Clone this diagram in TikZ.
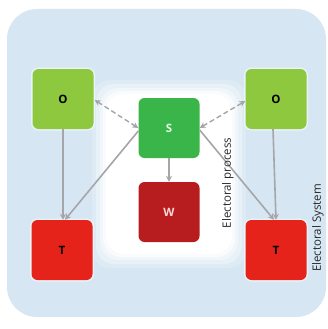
\documentclass[tikz,border=0pt]{standalone}
\usepackage{fontspec}
\setmainfont{Open Sans}
\usetikzlibrary{arrows.meta,calc}
\definecolor{bgblue}{HTML}{D6E7F3}
\definecolor{lightgreen}{HTML}{8DC83F}
\definecolor{midgreen}{HTML}{3AB54A}
\definecolor{darkred}{HTML}{B71C1E}
\definecolor{brightred}{HTML}{E6231B}
\definecolor{linkgray}{HTML}{A5A5AA}
\tikzset{
  box/.style={rounded corners=6pt, minimum width=61pt, minimum height=60pt,
    inner sep=0pt, font=\fontsize{11.5}{13}\selectfont\bfseries,
    preaction={draw=white, line width=3pt, opacity=0.5}},
  link/.style={draw=linkgray, line width=1.6pt,
    -{Stealth[length=6pt,width=6pt]}},
  twoway/.style={draw=linkgray, line width=1.4pt, dash pattern=on 5pt off 3pt,
    {Stealth[length=6pt,width=6pt]}-{Stealth[length=6pt,width=6pt]}},
  caption/.style={rotate=90, font=\fontsize{11.5}{13}\selectfont, text=black!85}
}
\begin{document}
\begin{tikzpicture}[x=1pt,y=-1pt]
\useasboundingbox (0,0) rectangle (328,329);
\fill[white] (0,0) rectangle (328,329);
% pale blue panel
\fill[bgblue, rounded corners=30pt] (7,9) rectangle (326,317);
% soft white field around the centre column
\foreach \d/\op in {14/0.2, 10/0.3, 6/0.4, 3/0.6, 0/1}
  \fill[white, opacity=\op, rounded corners=18pt]
    (106-\d,94-\d) rectangle (232+\d,254+\d);

% boxes
\node[box, fill=lightgreen] (O1) at (63,99)  {O};
\node[box, fill=brightred]  (T1) at (62,250) {T};
\node[box, fill=midgreen, text=white!90!green]  (S)  at (169,128) {S};
\node[box, fill=darkred, text=white!85!red]     (W)  at (169,212) {W};
\node[box, fill=lightgreen] (O2) at (276,99)  {O};
\node[box, fill=brightred]  (T2) at (276,250) {T};

% connectors
\draw[link] (O1.south) -- ($(T1.north)+(1,0)$);
\draw[link] ($(S.west)+(0,3)$) -- ($(T1.north)+(3,0)$);
\draw[twoway] ($(O1.east)+(1,1)$) -- (S.west);
\draw[twoway] (S.east) -- ($(O2.west)+(0,2)$);
\draw[link] ($(S.east)+(0,2)$) -- ($(T2.north)+(-2,0)$);
\draw[link] ($(O2.south)+(-3,0)$) -- (T2.north);
\draw[link] (S.south) -- (W.north);

% side captions
\node[caption] (ep) at (228,183) {Electoral process};
\node[caption] (es) at (318,228) {Electoral System};
\end{tikzpicture}
\end{document}
